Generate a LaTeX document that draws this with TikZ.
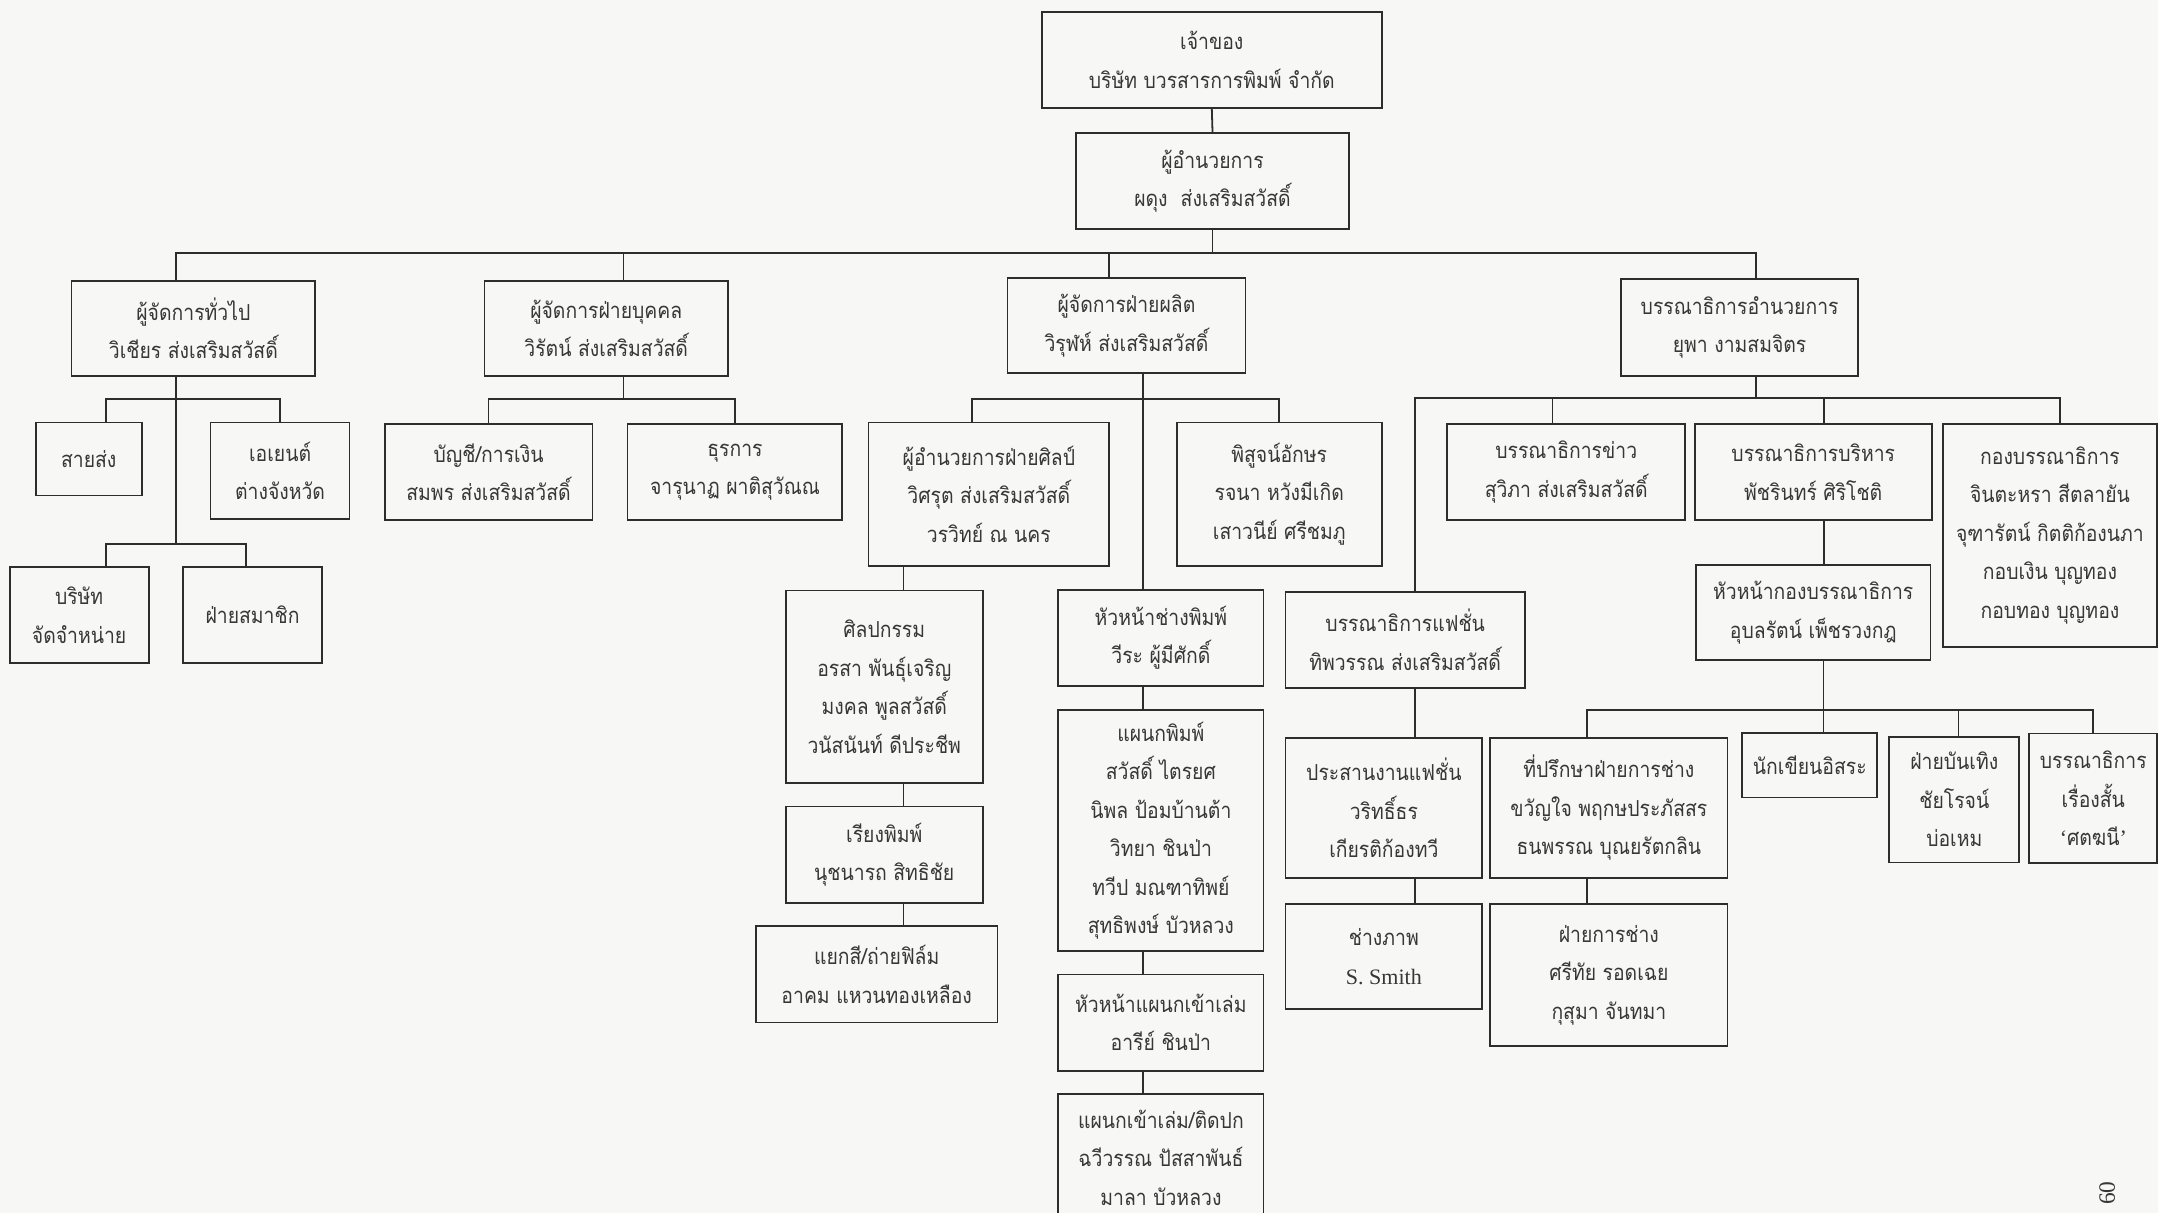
\documentclass[tikz,border=0pt]{standalone}
\usepackage{fontspec}
\newfontfamily\thaifont[Script=Thai,FakeStretch=0.88]{Loma}
\newfontfamily\seriffont{Liberation Serif}
\definecolor{bgc}{RGB}{247,247,245}
\definecolor{linec}{RGB}{45,45,45}
\definecolor{txtc}{RGB}{55,55,55}
\tikzset{
  box/.style={draw=linec, line width=1.3pt, fill=bgc, inner sep=0pt, align=center,
    text=txtc, font=\thaifont\fontsize{16}{28}\selectfont},
  link/.style={draw=linec, line width=1.3pt},
}
\newcommand\obox[6]{\node[box, minimum width=#4, minimum height=#5] (#1) at (#2,#3) {#6};}
\begin{document}
\begin{tikzpicture}[x=1pt,y=-1pt]
\useasboundingbox (0,0) rectangle (1568,881);
\fill[bgc] (0,0) rectangle (1568,881);
\clip (0,0) rectangle (1568,881);
% bus levels
\coordinate (mainbus) at (0,184);
\coordinate (gbusA) at (0,290);
\coordinate (gbusB) at (0,395);
\coordinate (pbus) at (0,290);
\coordinate (abus) at (0,290);
\coordinate (ebus) at (0,289);
\coordinate (hbus) at (0,516);
% nodes
\obox{owner}{880.5}{43.5}{247}{70}{เจ้าของ\\บริษัท บวรสารการพิมพ์ จำกัด}
\obox{dir}{881}{131.5}{198}{70}{ผู้อำนวยการ\\ผดุง\ \ ส่งเสริมสวัสดิ์}
\obox{gm}{140.5}{238.5}{177}{69}{ผู้จัดการทั่วไป\\วิเชียร ส่งเสริมสวัสดิ์}
\obox{pers}{440.5}{238.5}{177}{69}{ผู้จัดการฝ่ายบุคคล\\วิรัตน์ ส่งเสริมสวัสดิ์}
\obox{prod}{818.5}{236.5}{173}{69}{ผู้จัดการฝ่ายผลิต\\วิรุฬห์ ส่งเสริมสวัสดิ์}
\obox{edit}{1264}{238}{172}{70}{บรรณาธิการอำนวยการ\\ยุพา งามสมจิตร}
\obox{say}{64.5}{333.5}{77}{53}{สายส่ง}
\obox{agent}{203.5}{342}{101}{70}{เอเยนต์\\ต่างจังหวัด}
\obox{co}{57.5}{447}{101}{70}{บริษัท\\จัดจำหน่าย}
\obox{member}{183.5}{447}{101}{70}{ฝ่ายสมาชิก}
\obox{acc}{355}{343}{151}{70}{บัญชี/การเงิน\\สมพร ส่งเสริมสวัสดิ์}
\obox{admin}{534}{343}{156}{70}{ธุรการ\\จารุนาฏ ผาติสุวัณณ}
\obox{art}{718.5}{359}{175}{104}{ผู้อำนวยการฝ่ายศิลป์\\วิศรุต ส่งเสริมสวัสดิ์\\วรวิทย์ ณ นคร}
\obox{proof}{929.5}{359}{149}{104}{พิสูจน์อักษร\\รจนา หวังมีเกิด\\เสาวนีย์ ศรีชมภู}
\obox{sil}{642.5}{499}{143}{140}{ศิลปกรรม\\อรสา พันธุ์เจริญ\\มงคล พูลสวัสดิ์\\วนัสนันท์ ดีประชีพ}
\obox{ray}{642.5}{621}{143}{70}{เรียงพิมพ์\\นุชนารถ สิทธิชัย}
\obox{sep}{637}{708}{175.5}{70}{แยกสี/ถ่ายฟิล์ม\\อาคม แหวนทองเหลือง}
\obox{ph}{843.5}{463.5}{149}{70}{หัวหน้าช่างพิมพ์\\วีระ ผู้มีศักดิ์}
\obox{pp}{843.5}{603.5}{149}{175}{แผนกพิมพ์\\สวัสดิ์ ไตรยศ\\นิพล ป้อมบ้านต้า\\วิทยา ชินป่า\\ทวีป มณฑาทิพย์\\สุทธิพงษ์ บัวหลวง}
\obox{bh}{843.5}{743}{149}{70}{หัวหน้าแผนกเข้าเล่ม\\อารีย์ ชินป่า}
\obox{bind}{843.5}{841}{149}{92}{แผนกเข้าเล่ม/ติดปก\\ฉวีวรรณ ปัสสาพันธ์\\มาลา บัวหลวง}
\obox{fash}{1021}{465}{174}{70}{บรรณาธิการแฟชั่น\\ทิพวรรณ ส่งเสริมสวัสดิ์}
\obox{fco}{1005.5}{587}{143}{102}{ประสานงานแฟชั่น\\วริทธิ์ธร\\เกียรติก้องทวี}
\obox{photo}{1005.5}{695}{143}{76}{ช่างภาพ\\{\seriffont S. Smith}}
\obox{news}{1138}{343}{173}{70}{บรรณาธิการข่าว\\สุวิภา ส่งเสริมสวัสดิ์}
\obox{exec}{1317.5}{343}{172}{70}{บรรณาธิการบริหาร\\พัชรินทร์ ศิริโชติ}
\obox{kong}{1489.5}{389}{155}{162}{กองบรรณาธิการ\\จินตะหรา สีตลายัน\\จุฑารัตน์ กิตติก้องนภา\\กอบเงิน บุญทอง\\กอบทอง บุญทอง}
\obox{head}{1317.5}{445}{170.5}{69.5}{หัวหน้ากองบรรณาธิการ\\อุบลรัตน์ เพ็ชรวงกฎ}
\obox{adv}{1169}{587}{172.5}{102}{ที่ปรึกษาฝ่ายการช่าง\\ขวัญใจ พฤกษประภัสสร\\ธนพรรณ บุณยรัตกลิน}
\obox{craft}{1169}{708.5}{172.5}{103}{ฝ่ายการช่าง\\ศรีทัย รอดเฉย\\กุสุมา จันทมา}
\obox{writer}{1315}{556}{98}{47}{นักเขียนอิสระ}
\obox{ent}{1420}{581}{94.5}{91.5}{ฝ่ายบันเทิง\\ชัยโรจน์\\บ่อเหม}
\obox{story}{1521}{580}{93}{94}{บรรณาธิการ\\เรื่องสั้น\\{\seriffont ‘}ศตฆนี{\seriffont ’}}
\node[rotate=90, font=\seriffont\fontsize{17}{17}\selectfont, text=txtc] (pg) at (1531,867) {60};
% drop points
\coordinate (gmTop) at ([xshift=-12.5pt]gm.north);
\coordinate (gmBot) at ([xshift=-12.5pt]gm.south);
\coordinate (persTop) at ([xshift=12.5pt]pers.north);
\coordinate (persBot) at ([xshift=12.5pt]pers.south);
\coordinate (prodTop) at ([xshift=-12.5pt]prod.north);
\coordinate (prodBot) at ([xshift=12pt]prod.south);
\coordinate (editTop) at ([xshift=12pt]edit.north);
\coordinate (editBot) at ([xshift=12pt]edit.south);
\coordinate (sayTop) at ([xshift=12.5pt]say.north);
\coordinate (coTop) at ([xshift=19.5pt]co.north);
\coordinate (memTop) at ([xshift=-4.5pt]member.north);
\coordinate (artTop) at ([xshift=-12.5pt]art.north);
\coordinate (artCol) at ([xshift=-62pt]art.south);
\coordinate (fashTop) at ([xshift=7pt]fash.north);
\coordinate (fashBot) at ([xshift=7pt]fash.south);
\coordinate (newsTop) at ([xshift=-10pt]news.north);
\coordinate (execTop) at ([xshift=8pt]exec.north);
\coordinate (execBot) at ([xshift=8pt]exec.south);
\coordinate (kongTop) at ([xshift=7pt]kong.north);
\coordinate (headBot) at ([xshift=7.5pt]head.south);
\coordinate (advTop) at ([xshift=-16pt]adv.north);
\coordinate (advBot) at ([xshift=-16pt]adv.south);
\coordinate (entTop) at ([xshift=3pt]ent.north);
% connectors
\draw[link] (owner.south) -- (dir.north);
\draw[link] (dir.south) -- (dir.south |- mainbus);
\draw[link] (gmTop) -- (gmTop |- mainbus) -| (editTop);
\draw[link] (persTop) -- (persTop |- mainbus);
\draw[link] (prodTop) -- (prodTop |- mainbus);
% general manager
\draw[link] (gmBot) -- (gmBot |- gbusB);
\draw[link] (sayTop) -- (sayTop |- gbusA) -| (agent.north);
\draw[link] (coTop) -- (coTop |- gbusB) -| (memTop);
% personnel
\draw[link] (persBot) -- (persBot |- pbus);
\draw[link] (acc.north) -- (acc.north |- pbus) -| (admin.north);
% production
\draw[link] (artTop) -- (artTop |- abus) -| (proof.north);
\draw[link] (prodBot) -- (prodBot |- ph.north);
\draw[link] (prodBot |- ph.south) -- (prodBot |- pp.north);
\draw[link] (prodBot |- pp.south) -- (prodBot |- bh.north);
\draw[link] (prodBot |- bh.south) -- (prodBot |- bind.north);
\draw[link] (artCol) -- (artCol |- sil.north);
\draw[link] (artCol |- sil.south) -- (artCol |- ray.north);
\draw[link] (artCol |- ray.south) -- (artCol |- sep.north);
% editorial
\draw[link] (editBot) -- (editBot |- ebus);
\draw[link] (fashTop) -- (fashTop |- ebus) -| (kongTop);
\draw[link] (newsTop) -- (newsTop |- ebus);
\draw[link] (execTop) -- (execTop |- ebus);
\draw[link] (execBot) -- (execBot |- head.north);
\draw[link] (fashBot) -- (fashBot |- fco.north);
\draw[link] (fashBot |- fco.south) -- (fashBot |- photo.north);
\draw[link] (headBot) -- (headBot |- writer.north);
\draw[link] (advTop) -- (advTop |- hbus) -| (story.north);
\draw[link] (entTop) -- (entTop |- hbus);
\draw[link] (advBot) -- (advBot |- craft.north);
\end{tikzpicture}
\end{document}
